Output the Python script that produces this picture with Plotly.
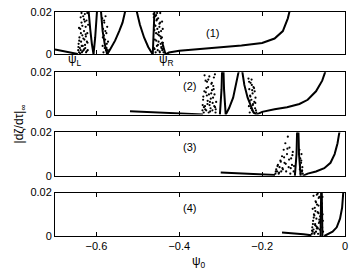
import plotly.graph_objects as go
from plotly.subplots import make_subplots

# ---------------- data ----------------
x_ticks = [-0.6, -0.4, -0.2, 0]
x_tick_labels = ["\u22120.6", "\u22120.4", "\u22120.2", "0"]
y_ticks = [0, 0.02]
y_tick_labels = ["0", "0.02"]

# panel 1 curves (None separates branches)
p1_line_x = [-0.700, -0.680, -0.660, -0.645, None,
             -0.621, -0.619, -0.615, -0.611, -0.607, -0.603, -0.599, -0.597, None,
             -0.591, -0.589, -0.585, -0.580, -0.574, -0.565, -0.555, -0.545, -0.537, -0.531, -0.528, None,
             -0.506, -0.502, -0.495, -0.485, -0.475, -0.464, -0.461, -0.459, None,
             -0.442, -0.438, -0.433, -0.425, -0.410, -0.400, -0.350, -0.300, -0.250, -0.200, -0.170, -0.150, -0.138, -0.133]
p1_line_y = [0.0023, 0.0016, 0.0008, 0.0002, None,
             0.025, 0.020, 0.012, 0.005, 0.000, 0.008, 0.018, 0.025, None,
             0.025, 0.020, 0.011, 0.005, 0.000, 0.003, 0.0065, 0.011, 0.015, 0.020, 0.023, None,
             0.023, 0.020, 0.014, 0.008, 0.0035, 0.000, 0.012, 0.025, None,
             0.006, 0.003, 0.000, 0.0009, 0.0014, 0.0017, 0.0026, 0.0034, 0.0042, 0.0054, 0.0075, 0.011, 0.017, 0.021]

p1_dots_x = [-0.644, -0.643, -0.642, -0.641, -0.640, -0.639, -0.638, -0.637, -0.636, -0.635, -0.634, -0.633, -0.632,
             -0.631, -0.630, -0.629, -0.628, -0.627, -0.626, -0.625, -0.624, -0.623, -0.622, -0.621, -0.620,
             -0.6435, -0.6415, -0.6395, -0.6375, -0.6355, -0.6335, -0.6315, -0.6295, -0.6275, -0.6255, -0.6235, -0.6215,
             -0.642, -0.638, -0.634, -0.630, -0.626, -0.622, -0.636, -0.628,
             -0.586, -0.585, -0.584, -0.583, -0.582, -0.581, -0.580, -0.579, -0.578, -0.577, -0.576, -0.575, -0.574,
             -0.573, -0.572, -0.5845, -0.5815, -0.5785, -0.5755, -0.5725,
             -0.462, -0.461, -0.460, -0.459, -0.458, -0.457, -0.456, -0.455, -0.454, -0.453, -0.452, -0.451, -0.450,
             -0.449, -0.448, -0.447, -0.446, -0.445, -0.444, -0.443, -0.442, -0.441, -0.440, -0.439, -0.438,
             -0.4615, -0.4595, -0.4575, -0.4555, -0.4535, -0.4515, -0.4495, -0.4475, -0.4455, -0.4435, -0.4415, -0.4395,
             -0.460, -0.456, -0.452, -0.448, -0.444, -0.440, -0.454, -0.446]
p1_dots_y = [0.002, 0.005, 0.001, 0.008, 0.003, 0.012, 0.002, 0.006, 0.015, 0.001, 0.009, 0.004, 0.018,
             0.002, 0.011, 0.007, 0.019, 0.003, 0.013, 0.001, 0.016, 0.006, 0.010, 0.002, 0.014,
             0.0035, 0.0065, 0.0005, 0.010, 0.004, 0.0015, 0.0075, 0.0025, 0.0045, 0.0085, 0.0015, 0.0055,
             0.0125, 0.0175, 0.0135, 0.0165, 0.0095, 0.0195, 0.0195, 0.0155,
             0.017, 0.004, 0.012, 0.001, 0.009, 0.015, 0.003, 0.007, 0.018, 0.002, 0.010, 0.005, 0.013,
             0.001, 0.006, 0.008, 0.016, 0.011, 0.003, 0.002,
             0.019, 0.003, 0.014, 0.007, 0.018, 0.001, 0.010, 0.016, 0.004, 0.012, 0.002, 0.017, 0.006,
             0.009, 0.013, 0.001, 0.015, 0.005, 0.011, 0.003, 0.008, 0.002, 0.012, 0.004, 0.001,
             0.0175, 0.0025, 0.0135, 0.0065, 0.0195, 0.0045, 0.0105, 0.0015, 0.0085, 0.0035, 0.0155, 0.0055,
             0.0115, 0.0185, 0.0095, 0.0145, 0.0075, 0.0025, 0.0165, 0.0195]

# panel 2
p2_line_x = [-0.519, -0.480, -0.440, -0.400, -0.360, -0.343, None,
             -0.302, -0.298, -0.296, None, -0.294, -0.292, -0.288,
             -0.280, -0.270, -0.262, -0.257, -0.255, None,
             -0.250, -0.248, -0.243, -0.235, -0.228, -0.221, -0.214,
             -0.200, -0.170, -0.140, -0.110, -0.090, -0.070, -0.055, -0.048, -0.045]
p2_line_y = [0.0016, 0.0012, 0.0009, 0.0006, 0.0003, 0.0001, None,
             0.000, 0.012, 0.025, None, 0.025, 0.012, 0.000,
             0.003, 0.008, 0.015, 0.020, 0.023, None,
             0.023, 0.020, 0.014, 0.008, 0.004, 0.001, 0.000,
             0.0013, 0.0025, 0.0035, 0.005, 0.007, 0.011, 0.016, 0.020, 0.023]

p2_dots_x = [-0.344, -0.3425, -0.341, -0.3395, -0.338, -0.3365, -0.335, -0.3335, -0.332, -0.3305, -0.329, -0.3275,
             -0.326, -0.3245, -0.323, -0.3215, -0.320, -0.3185, -0.317, -0.3155, -0.314, -0.3125, -0.311, -0.3435, -0.3405,
             -0.3375, -0.3345, -0.3315, -0.3285, -0.3255, -0.3225, -0.3195, -0.3165, -0.3135, -0.342, -0.336, -0.330,
             -0.324, -0.318, -0.312, -0.339, -0.333, -0.327, -0.321, -0.315,
             -0.233, -0.232, -0.231, -0.230, -0.229, -0.228, -0.227, -0.226, -0.225, -0.224, -0.223, -0.222,
             -0.221, -0.220, -0.219, -0.218, -0.217, -0.216, -0.215, -0.214,
             -0.2315, -0.2285, -0.2255, -0.2225, -0.2195, -0.2165, -0.230, -0.224]
p2_dots_y = [0.002, 0.007, 0.001, 0.011, 0.004, 0.016, 0.002, 0.009, 0.005, 0.013, 0.001, 0.018,
             0.006, 0.003, 0.010, 0.015, 0.002, 0.008, 0.012, 0.004, 0.019, 0.001, 0.006, 0.0045, 0.0035,
             0.0025, 0.0125, 0.0065, 0.0095, 0.0015, 0.0145, 0.0055, 0.0175, 0.0035, 0.0085, 0.0105, 0.0165,
             0.0075, 0.0135, 0.0025, 0.0185, 0.0155, 0.0045, 0.0115, 0.0095,
             0.017, 0.004, 0.012, 0.001, 0.009, 0.015, 0.003, 0.007, 0.014, 0.002, 0.010, 0.005,
             0.013, 0.001, 0.006, 0.011, 0.003, 0.008, 0.002, 0.001,
             0.0155, 0.0085, 0.0165, 0.0045, 0.0125, 0.0055, 0.0065, 0.0115]

# panel 3
p3_line_x = [-0.300, -0.250, -0.200, -0.169, None,
             -0.121, -0.117, -0.115, None, -0.113, -0.111, -0.107, None,
             -0.102, -0.090, -0.070, -0.050, -0.035, -0.025, -0.018, -0.013, -0.011]
p3_line_y = [0.0015, 0.0011, 0.0007, 0.0004, None,
             0.000, 0.010, 0.025, None, 0.025, 0.010, 0.000, None,
             0.000, 0.0010, 0.0020, 0.0035, 0.006, 0.010, 0.015, 0.020, 0.023]

p3_dots_x = [-0.168, -0.166, -0.164, -0.162, -0.160, -0.158, -0.156, -0.154, -0.152, -0.150, -0.148, -0.146,
             -0.144, -0.142, -0.140, -0.138, -0.136, -0.134, -0.132, -0.130, -0.128, -0.126, -0.124,
             -0.167, -0.163, -0.159, -0.155, -0.151, -0.147, -0.143, -0.139, -0.135, -0.131, -0.127, -0.123,
             -0.110, -0.109, -0.108, -0.107, -0.106, -0.105, -0.104, -0.103, -0.102, -0.1085, -0.1055, -0.1035]
p3_dots_y = [0.001, 0.003, 0.002, 0.005, 0.001, 0.004, 0.007, 0.002, 0.009, 0.003, 0.012, 0.006,
             0.015, 0.002, 0.010, 0.018, 0.004, 0.013, 0.001, 0.008, 0.005, 0.011, 0.002,
             0.002, 0.0045, 0.0015, 0.0065, 0.0035, 0.0085, 0.0055, 0.0125, 0.0075, 0.0035, 0.0095, 0.0045,
             0.012, 0.003, 0.008, 0.001, 0.006, 0.010, 0.002, 0.004, 0.001, 0.005, 0.007, 0.0025]

# panel 4
p4_line_x = [-0.152, -0.120, -0.100, -0.081, None,
             -0.059, -0.0578, -0.0572, None, -0.0565, -0.0558, -0.0545, None,
             -0.050, -0.040, -0.030, -0.020, -0.012, -0.007, -0.004, -0.003]
p4_line_y = [0.0016, 0.0012, 0.0008, 0.0003, None,
             0.000, 0.012, 0.025, None, 0.025, 0.012, 0.000, None,
             0.000, 0.0010, 0.0020, 0.0040, 0.008, 0.013, 0.020, 0.023]

p4_dots_x = [-0.080, -0.079, -0.078, -0.077, -0.076, -0.075, -0.074, -0.073, -0.072, -0.071, -0.070,
             -0.069, -0.068, -0.067, -0.066, -0.065, -0.064, -0.063, -0.062, -0.061, -0.060,
             -0.0795, -0.0775, -0.0755, -0.0735, -0.0715, -0.0695, -0.0675, -0.0655, -0.0635, -0.0615,
             -0.078, -0.074, -0.070, -0.066, -0.062, -0.076, -0.068, -0.064, -0.072,
             -0.056, -0.055, -0.054, -0.053, -0.0545, -0.0535]
p4_dots_y = [0.001, 0.004, 0.002, 0.007, 0.003, 0.010, 0.001, 0.013, 0.005, 0.016, 0.002,
             0.008, 0.019, 0.004, 0.011, 0.001, 0.014, 0.006, 0.018, 0.003, 0.009,
             0.0025, 0.0055, 0.0085, 0.0015, 0.0115, 0.0045, 0.0145, 0.0035, 0.0175, 0.0065,
             0.0125, 0.0095, 0.0155, 0.0195, 0.0075, 0.0185, 0.0035, 0.0105, 0.0055,
             0.015, 0.004, 0.010, 0.002, 0.018, 0.007]

panel_labels = ["(1)", "(2)", "(3)", "(4)"]
panel_label_x = [-0.321, -0.376, -0.376, -0.376]
panel_label_y = [0.0102, 0.0135, 0.0132, 0.0127]

# ---------------- figure ----------------
FONT = "Liberation Sans, Arial, sans-serif"
fig = make_subplots(rows=4, cols=1, shared_xaxes=False, vertical_spacing=0.05)

lines = [(p1_line_x, p1_line_y), (p2_line_x, p2_line_y), (p3_line_x, p3_line_y), (p4_line_x, p4_line_y)]
dots = [(p1_dots_x, p1_dots_y), (p2_dots_x, p2_dots_y), (p3_dots_x, p3_dots_y), (p4_dots_x, p4_dots_y)]

for i in range(4):
    fig.add_trace(go.Scatter(x=dots[i][0], y=dots[i][1], mode="markers",
                             marker=dict(color="black", size=2.2), showlegend=False,
                             cliponaxis=True), row=i + 1, col=1)
    fig.add_trace(go.Scatter(x=lines[i][0], y=lines[i][1], mode="lines",
                             line=dict(color="black", width=2), showlegend=False,
                             connectgaps=False), row=i + 1, col=1)

domains = [[0.8106, 1.0], [0.5419, 0.7313], [0.2687, 0.4626], [0.0, 0.1938]]
for i in range(4):
    fig.update_yaxes(domain=domains[i], range=[0, 0.02], tickvals=y_ticks, ticktext=y_tick_labels,
                     ticks="inside", ticklen=4, tickcolor="black", showline=True, linecolor="black",
                     linewidth=1, mirror="ticks", showgrid=False, zeroline=False,
                     tickfont=dict(family=FONT, size=11, color="black"), row=i + 1, col=1)
    fig.update_xaxes(range=[-0.7, 0], tickvals=x_ticks, ticktext=x_tick_labels,
                     showticklabels=(i == 3), ticks="inside", ticklen=4, tickcolor="black",
                     showline=True, linecolor="black", linewidth=1, mirror="ticks",
                     showgrid=False, zeroline=False,
                     tickfont=dict(family=FONT, size=11, color="black"), row=i + 1, col=1)

axis_names = ["", "2", "3", "4"]
for i in range(4):
    fig.add_annotation(x=panel_label_x[i], y=panel_label_y[i], xref="x" + axis_names[i],
                       yref="y" + axis_names[i], text=panel_labels[i], showarrow=False,
                       xanchor="center", yanchor="middle",
                       font=dict(family=FONT, size=11, color="black"))

fig.add_annotation(x=-0.651, y=0.785, xref="x", yref="paper", text="\u03c8<sub>L</sub>",
                   showarrow=False, xanchor="center", yanchor="middle",
                   font=dict(family=FONT, size=12, color="black"))
fig.add_annotation(x=-0.430, y=0.785, xref="x", yref="paper", text="\u03c8<sub>R</sub>",
                   showarrow=False, xanchor="center", yanchor="middle",
                   font=dict(family=FONT, size=12, color="black"))
fig.add_annotation(x=-0.352, y=-0.115, xref="x4", yref="paper", text="\u03c8<sub>0</sub>",
                   showarrow=False, xanchor="center", yanchor="middle",
                   font=dict(family=FONT, size=12, color="black"))
fig.add_annotation(x=-0.119, y=0.5, xref="paper", yref="paper",
                   text="|d\u03b6/d\u03c4|<sub>\u221e</sub>", textangle=-90,
                   showarrow=False, xanchor="center", yanchor="middle",
                   font=dict(family=FONT, size=12, color="black"))

fig.update_layout(width=354, height=273, margin=dict(l=55, r=6, t=9, b=37),
                  paper_bgcolor="white", plot_bgcolor="white")

fig.write_html("out.html", config={"displayModeBar": False},
               post_script="document.body.style.margin='0';document.body.style.overflow='hidden';")
